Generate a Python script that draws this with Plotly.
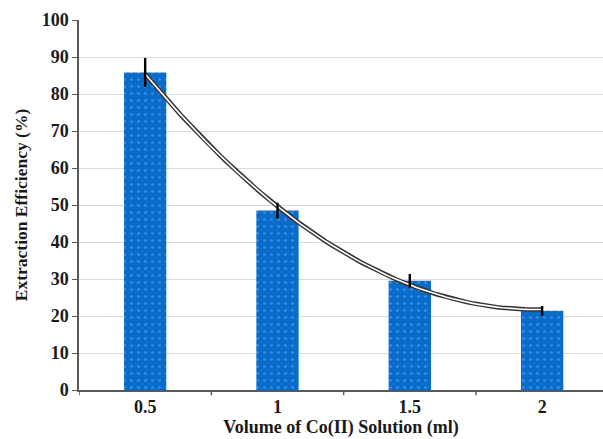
import numpy as np
import plotly.graph_objects as go

volumes = ["0.5", "1", "1.5", "2"]
vol_num = [0.5, 1.0, 1.5, 2.0]
efficiency = [85.8, 48.5, 29.5, 21.4]
err = [3.6, 1.8, 1.5, 1.0]

# polynomial (order 2) trendline as in the spreadsheet chart
coef = np.polyfit(vol_num, efficiency, 2)
xs = np.linspace(0.5, 2.0, 80)
ys = np.polyval(coef, xs)
xs_pos = (xs - 0.5) / 0.5  # category index positions

tick_font = dict(family="Liberation Serif", size=18, color="#1a1a1a", weight="bold")
title_font = dict(family="Liberation Serif", size=18, color="#1a1a1a", weight="bold")

fig = go.Figure()
fig.add_trace(go.Bar(
    x=[0, 1, 2, 3], y=efficiency, width=0.32,
    marker=dict(color="#0a6cca", line=dict(width=0),
                pattern=dict(shape=".", fgcolor="#6fb2ee", bgcolor="#0a6cca", size=7, solidity=0.12)),
    showlegend=False,
))
fig.add_trace(go.Scatter(x=xs_pos, y=ys, mode="lines",
                         line=dict(color="#333333", width=4.5), showlegend=False, hoverinfo="skip"))
fig.add_trace(go.Scatter(x=xs_pos, y=ys, mode="lines",
                         line=dict(color="#ffffff", width=1.6), showlegend=False, hoverinfo="skip"))
fig.add_trace(go.Scatter(x=[0, 1, 2, 3], y=efficiency, mode="markers",
                         marker=dict(size=1, color="rgba(0,0,0,0)"),
                         error_y=dict(type="data", array=err, color="#000000", thickness=2.4, width=1.2),
                         showlegend=False))

fig.update_layout(
    width=603, height=439,
    margin=dict(l=79, r=0, t=20, b=49),
    paper_bgcolor="white", plot_bgcolor="white",
    font=dict(family="Liberation Serif", color="#1a1a1a"),
)
fig.update_xaxes(
    range=[-0.5, 3.46],
    tickmode="array", tickvals=[0, 1, 2, 3], ticktext=volumes,
    showgrid=False, showline=True, linecolor="#595959", linewidth=1.5,
    ticks="", tickfont=tick_font,
    title=dict(text="Volume of Co(II) Solution (ml)", font=title_font, standoff=3),
    zeroline=False,
)
# boundary tick marks
for b in [-0.5, 0.5, 1.5, 2.5, 3.5]:
    fig.add_shape(type="line", xref="x", yref="paper", x0=b, x1=b, y0=0, y1=-0.014,
                  line=dict(color="#595959", width=1.5))
fig.update_yaxes(
    range=[0, 100], dtick=10,
    showgrid=True, gridcolor="#d9d9d9", gridwidth=1,
    showline=True, linecolor="#595959", linewidth=1.5,
    ticks="outside", ticklen=5, tickcolor="#595959",
    tickfont=tick_font,
    title=dict(text="Extraction Efficiency (%)", font=dict(family="Liberation Serif", size=17.5, color="#1a1a1a", weight="bold"), standoff=10),
    zeroline=False,
)
fig.write_html("out.html")
